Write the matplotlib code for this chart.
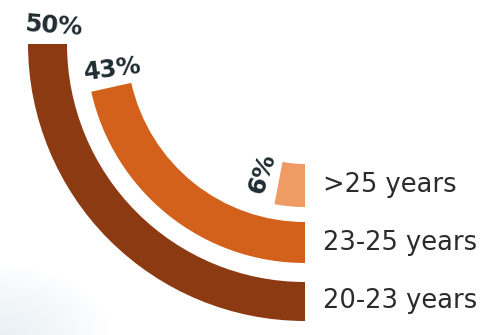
import numpy as np
import matplotlib
matplotlib.use("Agg")
import matplotlib.pyplot as plt
from matplotlib.colors import LinearSegmentedColormap

# Share of respondents by age group
categories = ["20-23 years", "23-25 years", ">25 years"]
shares = [50, 43, 6]
share_labels = ["50%", "43%", "6%"]

colors = ["#8c3a12", "#d3611c", "#ef9b64"]
W, H, DPI = 496, 335, 100

fig = plt.figure(figsize=(W / DPI, H / DPI), dpi=DPI)
fig.patch.set_facecolor("white")

# faint cool tint in the lower-left corner of the page
bg = fig.add_axes([0, 0, 1, 1], zorder=-1)
yy, xx = np.mgrid[0:H, 0:W]
d = np.hypot(xx / 110.0, (H - yy) / 70.0)
tint = np.clip(1 - d, 0, 1) ** 0.8
cmap = LinearSegmentedColormap.from_list("tint", ["#ffffff", "#e9f0f5"])
bg.imshow(tint, cmap=cmap, vmin=0, vmax=1, origin="upper", aspect="auto",
          extent=[0, W, 0, H])
bg.set_axis_off()

# Polar axes whose origin sits near the top-right of the canvas
cx, cy = 305, 44          # origin in pixels (from top-left)
rmax = 320                # data units == pixels
ax = fig.add_axes([(cx - rmax) / W, (H - cy - rmax) / H, 2 * rmax / W, 2 * rmax / H],
                  projection="polar")
ax.patch.set_alpha(0)
ax.set_theta_zero_location("S")
ax.set_theta_direction(-1)
ax.set_ylim(0, rmax)
ax.set_axis_off()

# ring geometry (outer ring first)
inner_r = [238, 178, 120]
thickness = [39, 41, 43]

for share, r0, t, c, lab, cat in zip(shares, inner_r, thickness, colors,
                                     share_labels, categories):
    theta = share / 100 * np.pi
    ax.bar(theta / 2, t, width=theta, bottom=r0, color=c, edgecolor="none",
           align="center")
    rmid = r0 + t / 2
    # value label just beyond the end of the arc, aligned with the radius
    th_lab = theta + 18 / rmid
    ax.text(th_lab, rmid - 5, lab, rotation=90 - np.degrees(th_lab),
            rotation_mode="anchor", ha="center", va="center",
            fontsize=17.5, fontweight="bold", color="#1f2d33",
            family="DejaVu Sans")
    # category label to the right of the arc's start
    ax.annotate(cat, xy=(0, rmid), xytext=(18, 0), textcoords="offset pixels",
                ha="left", va="center", fontsize=18.5, color="#2b2b2b",
                family="DejaVu Sans", annotation_clip=False)

fig.savefig("out.png", dpi=DPI, facecolor="white")
